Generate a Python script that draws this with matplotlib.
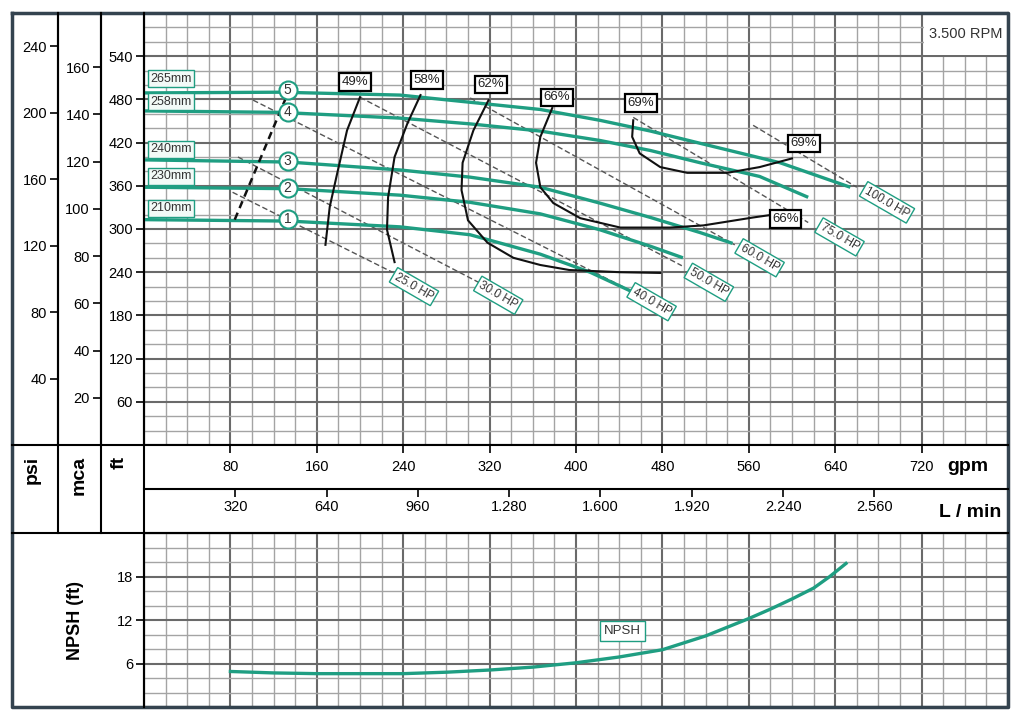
import matplotlib.pyplot as plt
from matplotlib.patches import Rectangle
from matplotlib.ticker import MultipleLocator

plt.rcParams['font.family'] = ['Liberation Sans', 'DejaVu Sans']

VERDE = '#1f9e82'
GRIS_MAJ = '#6a6a6a'
GRIS_MIN = '#a4a4a4'
MARCO = '#34434f'

# ejes / escalas
gpm_ticks = [80, 160, 240, 320, 400, 480, 560, 640, 720]
lmin_ticks = [320, 640, 960, 1280, 1600, 1920, 2240, 2560]
lmin_labels = ['320', '640', '960', '1.280', '1.600', '1.920', '2.240', '2.560']
psi_ticks = [40, 80, 120, 160, 200, 240]
mca_ticks = [20, 40, 60, 80, 100, 120, 140, 160]
ft_ticks = [60, 120, 180, 240, 300, 360, 420, 480, 540]
npsh_ticks = [6, 12, 18]

FT_PSI = 2.3067
FT_M = 3.2808
L_GPM = 3.7854

# curvas H-Q por diametro de rodete (gpm, ft)
diametros = ['265mm', '258mm', '240mm', '230mm', '210mm']
numeros = ['5', '4', '3', '2', '1']
q_265 = [0, 126, 237, 302, 367, 422, 469, 515, 589, 654]
h_265 = [489, 490, 486, 476, 466, 451, 436, 419, 392, 358]
q_258 = [0, 126, 237, 302, 367, 422, 469, 515, 570, 615]
h_258 = [464, 462, 454, 446, 436, 423, 409, 392, 373, 344]
q_240 = [0, 134, 237, 302, 367, 422, 469, 515, 545]
h_240 = [396, 393, 382, 372, 358, 336, 316, 295, 280]
q_230 = [0, 134, 237, 302, 367, 422, 469, 499]
h_230 = [358, 356, 347, 337, 321, 299, 276, 260]
q_210 = [0, 134, 237, 302, 367, 413, 459]
h_210 = [313, 311, 303, 292, 265, 240, 208]
curvas_q = [q_265, q_258, q_240, q_230, q_210]
curvas_h = [h_265, h_258, h_240, h_230, h_210]
diam_h = [509, 477, 411, 373, 329]
circ_q = 133
circ_h = [493, 462, 394, 357, 314]

# linea de caudal minimo
min_q = [84, 135]
min_h = [313, 495]

# curvas de rendimiento
ef_49_q = [200, 188, 179, 172, 168]
ef_49_h = [483, 437, 378, 331, 278]
ef_58_q = [256, 244, 232, 226, 225, 232]
ef_58_h = [486, 447, 400, 344, 299, 254]
ef_62_q = [319, 305, 295, 294, 300, 318, 342, 367, 394, 441, 478]
ef_62_h = [479, 437, 392, 354, 312, 281, 260, 250, 243, 240, 239]
ef_66_q = [378, 367, 363, 367, 379, 404, 441, 487, 518, 564, 578]
ef_66_h = [468, 428, 392, 358, 336, 315, 302, 302, 305, 316, 319]
ef_69_q = [453, 452, 459, 478, 503, 540, 570, 600]
ef_69_h = [451, 428, 405, 386, 378, 378, 386, 398]
ef_q = [ef_49_q, ef_58_q, ef_62_q, ef_66_q, ef_69_q]
ef_h = [ef_49_h, ef_58_h, ef_62_h, ef_66_h, ef_69_h]
ef_textos = ['49%', '58%', '62%', '66%', '69%', '69%', '66%']
ef_txt_q = [195, 262, 321, 382, 460, 611, 594]
ef_txt_h = [504, 507, 501, 483, 475, 419, 314]

# lineas de potencia
hp_textos = ['25.0 HP', '30.0 HP', '40.0 HP', '50.0 HP', '60.0 HP', '75.0 HP', '100.0 HP']
hp_q = [[82, 230], [87, 311], [101, 455], [200, 498], [302, 547], [453, 615], [564, 660]]
hp_h = [[351, 240], [400, 225], [479, 211], [483, 249], [482, 278], [455, 309], [444, 358]]
hp_txt_q = [250, 328, 470, 523, 570, 644, 688]
hp_txt_h = [220, 208, 199, 226, 260, 289, 337]

# NPSH
npsh_q = [80, 120, 160, 200, 240, 280, 320, 360, 400, 440, 480, 520, 560, 580, 600, 620, 635, 650]
npsh_h = [4.9, 4.7, 4.6, 4.6, 4.6, 4.8, 5.1, 5.5, 6.1, 6.9, 7.9, 9.8, 12.2, 13.5, 14.9, 16.4, 18.0, 19.8]


def fx(px):
    return px / 1024


def fy(py):
    return 1 - py / 720


IZQ, DER = 144, 1008
fig = plt.figure(figsize=(10.24, 7.2), dpi=100)


def rejilla(a, mx, mnx, my, mny):
    a.xaxis.set_major_locator(MultipleLocator(mx))
    a.xaxis.set_minor_locator(MultipleLocator(mnx))
    a.yaxis.set_minor_locator(MultipleLocator(mny))
    a.set_axisbelow(True)
    a.grid(which='major', color=GRIS_MAJ, lw=1.5)
    a.grid(which='minor', color=GRIS_MIN, lw=1.0)
    a.tick_params(axis='x', which='both', length=0, labelbottom=False)
    a.tick_params(axis='y', which='minor', length=0)
    a.tick_params(axis='y', which='major', length=6, width=1.2, labelsize=10.5, pad=2)
    for s in a.spines.values():
        s.set_linewidth(1.5)


# grafico principal
ax = fig.add_axes([fx(IZQ), fy(445), fx(DER - IZQ), (445 - 13) / 720])
ax.set_xlim(0, 800)
ax.set_ylim(0, 600)
rejilla(ax, 80, 20, 60, 20)
ax.set_yticks(ft_ticks)

ax.add_patch(Rectangle((722, 541), 78, 59, fc='white', ec='none', zorder=1))
ax.text(761, 571, '3.500 RPM', ha='center', va='center', fontsize=10.5, color='#333333', zorder=2)

for q, h in zip(hp_q, hp_h):
    ax.plot(q, h, color='#555555', lw=1.0, ls=(0, (4, 2)), zorder=2.5)
for q, h in zip(curvas_q, curvas_h):
    ax.plot(q, h, color=VERDE, lw=2.4, zorder=3, solid_capstyle='butt', solid_joinstyle='round')
for q, h in zip(ef_q, ef_h):
    ax.plot(q, h, color='#111111', lw=1.5, zorder=4, solid_joinstyle='round')
ax.plot(min_q, min_h, color='#111111', lw=1.8, ls=(0, (3, 2)), zorder=4)

for t, q, h in zip(hp_textos, hp_txt_q, hp_txt_h):
    ax.text(q, h, t, rotation=-30, rotation_mode='anchor', ha='center', va='center',
            fontsize=8.5, color='#333333', zorder=5,
            bbox=dict(boxstyle='square,pad=0.2', fc='white', ec=VERDE, lw=1.0))
for t, q, h in zip(ef_textos, ef_txt_q, ef_txt_h):
    ax.text(q, h, t, ha='center', va='center', fontsize=9.5, color='#222222', zorder=5,
            bbox=dict(boxstyle='square,pad=0.2', fc='white', ec='black', lw=1.6))
for t, h in zip(diametros, diam_h):
    ax.text(6, h, t, ha='left', va='center', fontsize=9, color='#333333', zorder=5,
            bbox=dict(boxstyle='square,pad=0.2', fc='#f2faf7', ec=VERDE, lw=1.0))
ax.plot([circ_q] * len(circ_h), circ_h, 'o', ms=13, mfc='white', mec=VERDE, mew=1.5, zorder=6)
for t, h in zip(numeros, circ_h):
    ax.text(circ_q, h, t, ha='center', va='center', fontsize=10, color='#333333', zorder=7)

# ejes psi y mca
for xp, lim, tks in [(58, 600 / FT_PSI, psi_ticks), (101, 600 / FT_M, mca_ticks)]:
    a = fig.add_axes([fx(xp), fy(445), 0.0005, (445 - 13) / 720])
    a.set_facecolor('none')
    a.set_ylim(0, lim)
    a.set_yticks(tks)
    a.set_xticks([])
    for k in ['top', 'right', 'bottom']:
        a.spines[k].set_visible(False)
    a.spines['left'].set_linewidth(1.5)
    a.tick_params(axis='y', length=6, width=1.2, labelsize=10.5, pad=2)

# filas de caudal
ax_g = fig.add_axes([fx(IZQ), fy(489), fx(DER - IZQ), 44 / 720])
ax_g.set_xlim(0, 800)
ax_g.set_xticks(gpm_ticks)
ax_g.set_yticks([])
ax_g.tick_params(axis='x', direction='in', top=True, bottom=False, labelbottom=False, length=6, width=1.2)
for v in gpm_ticks:
    ax_g.text(v, 0.5, str(v), transform=ax_g.get_xaxis_transform(), ha='center', va='center', fontsize=10.5)
ax_g.text(0.954, 0.52, 'gpm', transform=ax_g.transAxes, ha='center', va='center', fontsize=14, fontweight='bold')

ax_l = fig.add_axes([fx(IZQ), fy(533), fx(DER - IZQ), 44 / 720])
ax_l.set_xlim(0, 800 * L_GPM)
ax_l.set_xticks(lmin_ticks)
ax_l.set_yticks([])
ax_l.tick_params(axis='x', direction='in', top=True, bottom=False, labelbottom=False, length=6, width=1.2)
for v, t in zip(lmin_ticks, lmin_labels):
    ax_l.text(v, 0.58, t, transform=ax_l.get_xaxis_transform(), ha='center', va='center', fontsize=10.5)
ax_l.text(0.956, 0.47, 'L / min', transform=ax_l.transAxes, ha='center', va='center', fontsize=14, fontweight='bold')
for a in (ax_g, ax_l):
    for s in a.spines.values():
        s.set_visible(False)

# NPSH
ax_n = fig.add_axes([fx(IZQ), fy(707), fx(DER - IZQ), (707 - 533) / 720])
ax_n.set_xlim(0, 800)
ax_n.set_ylim(0, 24)
rejilla(ax_n, 80, 20, 6, 2)
ax_n.set_yticks(npsh_ticks)
ax_n.plot(npsh_q, npsh_h, color=VERDE, lw=2.4, zorder=3, solid_joinstyle='round')
ax_n.text(443, 10.5, 'NPSH', ha='center', va='center', fontsize=9.5, color='#333333', zorder=5,
          bbox=dict(boxstyle='square,pad=0.3', fc='white', ec=VERDE, lw=1.0))

fig.text(fx(32), fy(456), 'psi', rotation=90, ha='center', va='top', fontsize=14, fontweight='bold')
fig.text(fx(79), fy(456), 'mca', rotation=90, ha='center', va='top', fontsize=14, fontweight='bold')
fig.text(fx(119), fy(456), 'ft', rotation=90, ha='center', va='top', fontsize=14, fontweight='bold')
fig.text(fx(76), fy(620), 'NPSH (ft)', rotation=90, ha='center', va='center', fontsize=13, fontweight='bold')

# marco
fr = fig.add_axes([0, 0, 1, 1], zorder=10)
fr.set_facecolor('none')
fr.set_xlim(0, 1024)
fr.set_ylim(720, 0)
fr.axis('off')
fr.plot([12, DER, DER, 12, 12], [13, 13, 707, 707, 13], color=MARCO, lw=2.5)
fr.plot([58, 58], [13, 533], color='black', lw=1.5)
fr.plot([101, 101], [13, 533], color='black', lw=1.5)
fr.plot([IZQ, IZQ], [13, 707], color='black', lw=1.5)
fr.plot([12, DER], [445, 445], color='black', lw=1.5)
fr.plot([IZQ, DER], [489, 489], color='black', lw=1.5)
fr.plot([12, DER], [533, 533], color='black', lw=1.5)

fig.savefig('out.png', dpi=100)
